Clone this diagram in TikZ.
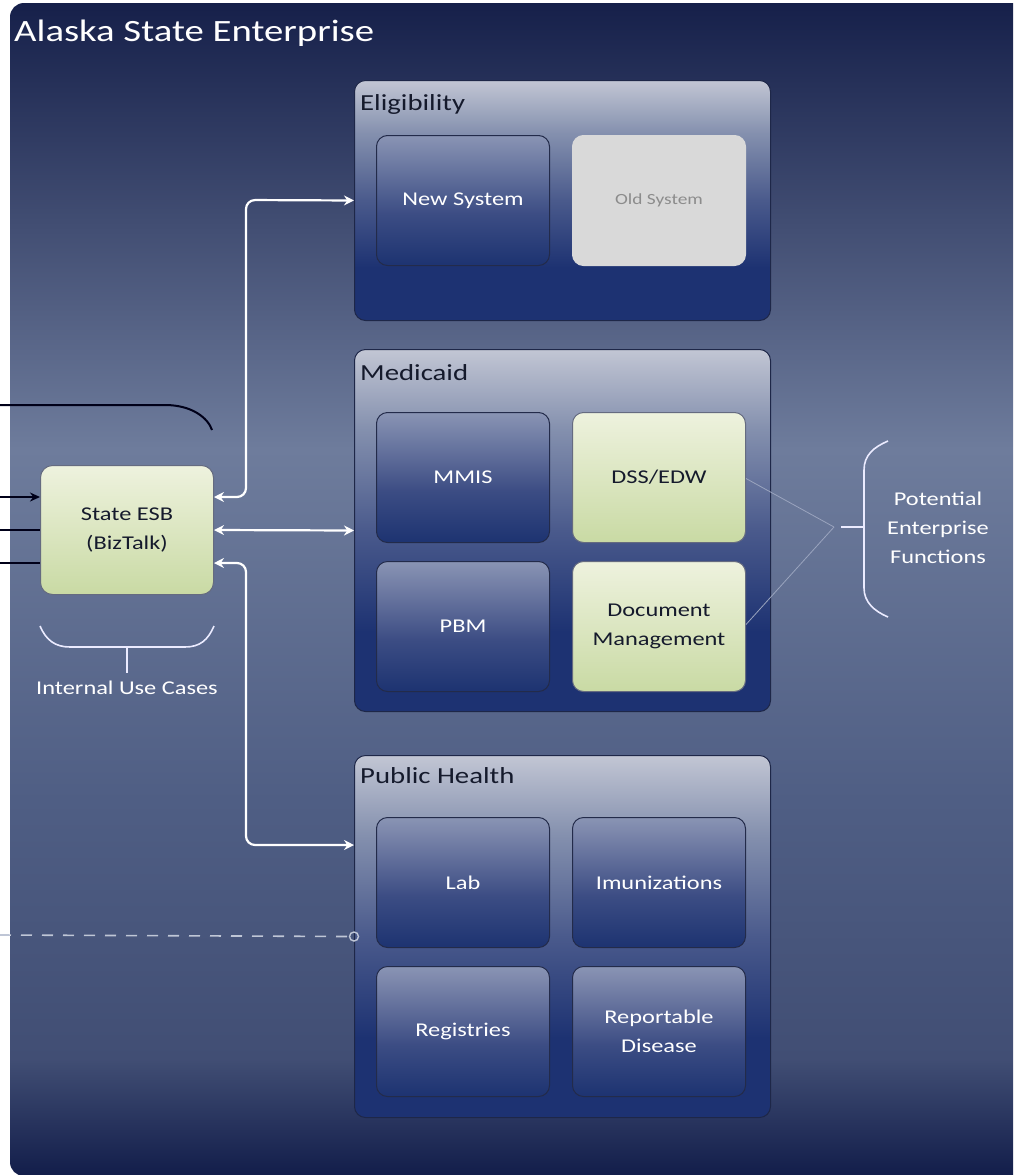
\documentclass[tikz,border=0pt]{standalone}
\usepackage{fontspec}
\setmainfont{Carlito}[FakeStretch=1.25]
\usetikzlibrary{arrows.meta,calc}

% palette
\definecolor{bgTop}{HTML}{16204A}
\definecolor{bgMid}{HTML}{6E7C9C}
\definecolor{bgLow}{HTML}{4F5E84}
\definecolor{bgFoot}{HTML}{414E74}
\definecolor{bgBot}{HTML}{121D4A}
\definecolor{grpTop}{HTML}{C2C6D4}
\definecolor{grpUp}{HTML}{8490AE}
\definecolor{grpMid}{HTML}{4A5A8C}
\definecolor{grpBot}{HTML}{1D3272}
\definecolor{grpEdge}{HTML}{1E2748}
\definecolor{boxTop}{HTML}{8A94B4}
\definecolor{boxMid}{HTML}{3C4D84}
\definecolor{boxBot}{HTML}{1D3371}
\definecolor{boxEdge}{HTML}{232B4A}
\definecolor{grnTop}{HTML}{EEF2DE}
\definecolor{grnBot}{HTML}{C9DAA4}
\definecolor{oldFill}{HTML}{D9D9D9}
\definecolor{oldText}{HTML}{8C8C8C}
\definecolor{darkText}{HTML}{151A2C}
\definecolor{linkLine}{HTML}{9AA4BE}
\definecolor{dashLine}{HTML}{BFC6D6}

% shadings: 25bp = bottom of the shape, 75bp = top
\pgfdeclareverticalshading{bgshade}{100bp}{color(0bp)=(bgBot); color(25bp)=(bgBot); color(30bp)=(bgFoot); color(41bp)=(bgLow); color(56bp)=(bgMid); color(75bp)=(bgTop); color(100bp)=(bgTop)}
\pgfdeclareverticalshading{grpshade}{100bp}{color(0bp)=(grpBot); color(25bp)=(grpBot); color(36bp)=(grpBot); color(50bp)=(grpMid); color(64bp)=(grpUp); color(75bp)=(grpTop); color(100bp)=(grpTop)}
\pgfdeclareverticalshading{boxshade}{100bp}{color(0bp)=(boxBot); color(25bp)=(boxBot); color(45bp)=(boxMid); color(75bp)=(boxTop); color(100bp)=(boxTop)}
\pgfdeclareverticalshading{grnshade}{100bp}{color(0bp)=(grnBot); color(25bp)=(grnBot); color(75bp)=(grnTop); color(100bp)=(grnTop)}

\begin{document}
\begin{tikzpicture}[x=1pt,y=-1pt,
  grp/.style={draw=grpEdge,line width=1pt,rounded corners=11pt,shading=grpshade,
    minimum width=416pt,anchor=north west,inner sep=0pt},
  grptitle/.style={anchor=west,text=darkText,font=\fontsize{23}{26}\selectfont,inner sep=0pt},
  boxbase/.style={line width=1pt,rounded corners=11pt,
    minimum width=173pt,minimum height=130pt,anchor=north west,
    font=\fontsize{19.5}{29}\selectfont,align=center,inner sep=0pt},
  sysbox/.style={boxbase,draw=boxEdge,shading=boxshade,text=white},
  grnbox/.style={boxbase,draw=boxEdge!70,shading=grnshade,text=darkText},
  oldbox/.style={boxbase,fill=oldFill,draw=white!85!black,text=oldText,
    font=\fontsize{15.5}{20}\selectfont},
  wline/.style={draw=white,line width=2.2pt,rounded corners=9pt,
    {Stealth[length=10pt,width=10pt]}-{Stealth[length=10pt,width=10pt]}},
  bline/.style={draw=black!90!blue,line width=2pt},
  brace/.style={draw=white!92!blue,line width=1.6pt},
  lbl/.style={text=white,font=\fontsize{19.5}{29}\selectfont,align=center,inner sep=0pt}]

\useasboundingbox (0,0) rectangle (1013,1175);
\clip (0,0) rectangle (1013,1175);

% enterprise backdrop
\shade[shading=bgshade,rounded corners=14pt] (10,3) rectangle (1030,1176);
\node[anchor=west,text=white,font=\fontsize{31}{36}\selectfont,inner sep=0pt]
  (title) at (14,33) {Alaska State Enterprise};

% groups
\node[grp,minimum height=240pt] (elig) at (354,80) {};
\node[grptitle] (eligT) at (360,104) {Eligibility};
\node[sysbox] (newsys) at (376,135) {New System};
\node[oldbox] (oldsys) at (572,135) {Old System};

\node[grp,minimum height=362pt] (medi) at (354,349) {};
\node[grptitle] (mediT) at (360,373) {Medicaid};
\node[sysbox] (mmis) at (376,412) {MMIS};
\node[grnbox] (dss) at (572,412) {DSS/EDW};
\node[sysbox] (pbm) at (376,561) {PBM};
\node[grnbox] (docm) at (572,561) {Document\\Management};

\node[grp,minimum height=362pt] (ph) at (354,755) {};
\node[grptitle] (phT) at (360,776) {Public Health};
\node[sysbox] (lab) at (376,817) {Lab};
\node[sysbox] (imm) at (572,817) {Imunizations};
\node[sysbox] (reg) at (376,966) {Registries};
\node[sysbox] (rep) at (572,966) {Reportable\\Disease};

% enterprise service bus
\node[grnbox,minimum width=173pt,minimum height=129pt,rounded corners=12pt] (esb) at (40,465)
  {State ESB\\(BizTalk)};

% external feeds on the left
\coordinate (feed0) at (0,405);
\coordinate (feed1) at (0,497);
\coordinate (feed2) at (0,530);
\coordinate (feed3) at (0,563);
\draw[bline] (feed0) -- (165,405) .. controls (192,405) and (208,418) .. (212,430);
\draw[bline,-{Stealth[length=10pt,width=9pt]}] (feed1) -- (esb.west |- feed1);
\draw[bline] (feed2) -- (esb.west |- feed2);
\draw[bline] (feed3) -- (esb.west |- feed3);

% bus links to the groups
\draw[wline] ($(esb.east)+(0,-33)$) -| (246,200) -- (elig.west);
\draw[wline] (esb.east) -- (medi.west);
\draw[wline] ($(esb.east)+(0,33)$) -| (246,845) -- ($(ph.north west)+(0,90)$);

% internal use cases brace
\draw[brace] ($(esb.south west)+(0,31)$) .. controls (46,640) and (55,647) .. (70,647)
  -- (185,647) .. controls (200,647) and (208,640) .. ($(esb.south east)+(0,31)$);
\draw[brace] (127,647) -- (127,673);
\node[lbl] (iuc) at (127,688) {Internal Use Cases};

% potential enterprise functions
\coordinate (meet) at (834,527);
\draw[draw=linkLine,line width=0.8pt] ($(dss.east)+(0,1)$) -- (meet);
\draw[draw=linkLine,line width=0.8pt] ($(docm.east)+(0,-2)$) -- (meet);
\draw[brace] (841,527) -- (864,527);
\draw[brace] (888,441) .. controls (874,447) and (864,455) .. (864,470) -- (864,588)
  .. controls (864,602) and (874,611) .. (888,617);
\node[lbl] (pef) at (938,528) {Potential\\Enterprise\\Functions};

% external link into public health
\coordinate (feed4) at (0,935);
\draw[draw=dashLine,line width=1.6pt,dash pattern=on 11pt off 10pt] (feed4) -- ($(ph.west)+(-4,0)$);
\draw[draw=dashLine,line width=1.4pt] (ph.west) circle (4.5pt);
\end{tikzpicture}
\end{document}
